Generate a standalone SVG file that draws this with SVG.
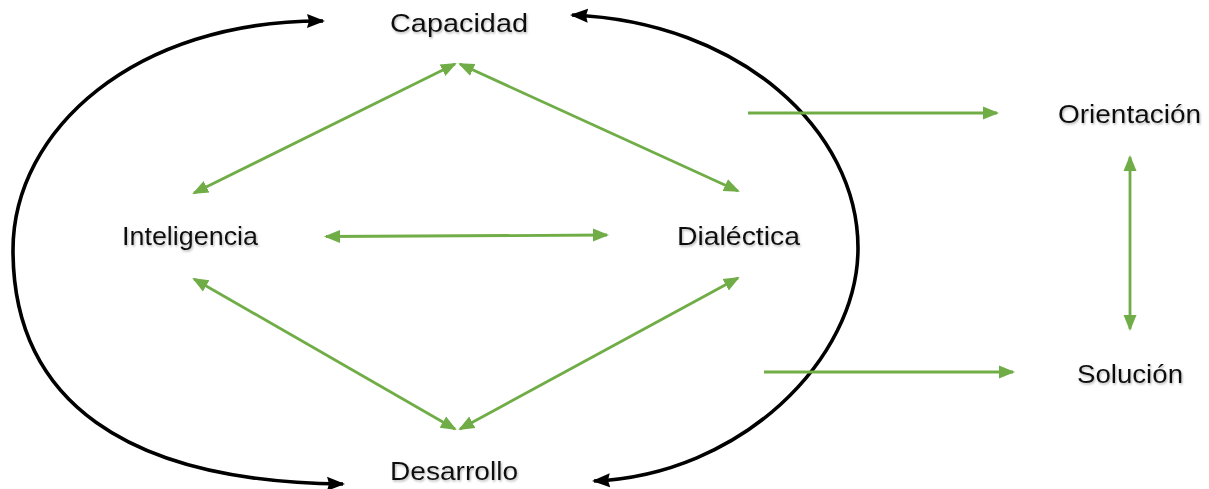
<svg xmlns="http://www.w3.org/2000/svg" width="1209" height="489" viewBox="0 0 1209 489">
<style>
.lbl{font-family:"Liberation Sans",Arial,sans-serif;font-size:26.5px;fill:#111;text-anchor:middle;filter:url(#sh)}
.g{stroke:#70AD47;stroke-width:2.8;fill:none;marker-start:url(#ga);marker-end:url(#ga)}
.g1{stroke:#70AD47;stroke-width:2.8;fill:none;marker-end:url(#ga)}
.k{stroke:#000;stroke-width:3.6;fill:none;marker-start:url(#ka);marker-end:url(#ka)}
</style>
<defs>
<filter id="sh" x="-10%" y="-30%" width="120%" height="160%">
<feDropShadow dx="1" dy="1.5" stdDeviation="1" flood-color="#777" flood-opacity="0.55"/>
</filter>
<marker id="ga" markerUnits="userSpaceOnUse" markerWidth="18" markerHeight="15" refX="14" refY="6.5" orient="auto-start-reverse" viewBox="0 0 18 13">
<path d="M0,0 L16,6.5 L0,13 Z" fill="#70AD47"/>
</marker>
<marker id="ka" markerUnits="userSpaceOnUse" markerWidth="20" markerHeight="16" refX="16" refY="7.5" orient="auto-start-reverse" viewBox="0 0 20 15">
<path d="M0,0.5 L18,7.5 L0,14.5 L2,7.5 Z" fill="#000"/>
</marker>
</defs>
<g id="connectors">
<path class="k" d="M 323 21 C 135 20, 13 130, 13 250 C 13 400, 125 482, 343 484"/>
<path class="k" d="M 572 15 C 740 22, 858 130, 858 248 C 858 360, 740 475, 594 481"/>
<line class="g" x1="455" y1="64" x2="194" y2="193"/>
<line class="g" x1="460" y1="64" x2="738" y2="191"/>
<line class="g" x1="326" y1="236.5" x2="607" y2="235"/>
<line class="g" x1="194" y1="279" x2="455" y2="429"/>
<line class="g" x1="738" y1="278" x2="460" y2="429"/>
<line class="g1" x1="748" y1="113" x2="997" y2="113"/>
<line class="g1" x1="764" y1="372" x2="1013" y2="372"/>
<line class="g" x1="1130" y1="157" x2="1130" y2="329"/>
</g>
<g id="capacidad"><text class="lbl" x="459" y="32" textLength="138" lengthAdjust="spacingAndGlyphs">Capacidad</text></g>
<g id="inteligencia"><text class="lbl" x="190" y="245" textLength="136" lengthAdjust="spacingAndGlyphs">Inteligencia</text></g>
<g id="dialectica"><text class="lbl" x="738.5" y="245" textLength="123" lengthAdjust="spacingAndGlyphs">Dialéctica</text></g>
<g id="desarrollo"><text class="lbl" x="454" y="480" textLength="128" lengthAdjust="spacingAndGlyphs">Desarrollo</text></g>
<g id="orientacion"><text class="lbl" x="1129.5" y="123" textLength="143" lengthAdjust="spacingAndGlyphs">Orientación</text></g>
<g id="solucion"><text class="lbl" x="1130" y="383" textLength="106" lengthAdjust="spacingAndGlyphs">Solución</text></g>
</svg>
